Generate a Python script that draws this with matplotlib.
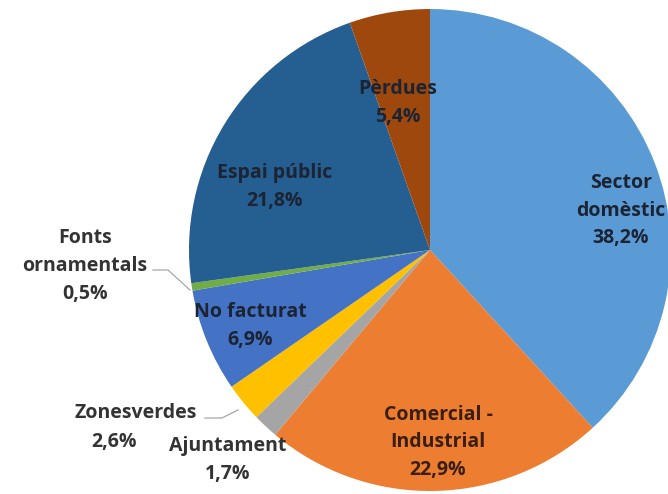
import matplotlib
matplotlib.use("Agg")
import matplotlib.pyplot as plt
import numpy as np

# Water consumption breakdown (%)
categories = ["Sector\ndomèstic", "Comercial -\nIndustrial", "Ajuntament", "Zonesverdes",
              "No facturat", "Fonts\nornamentals", "Espai públic", "Pèrdues"]
values = [38.2, 22.9, 1.7, 2.6, 6.9, 0.5, 21.8, 5.4]
colors = ["#5B9BD5", "#ED7D31", "#A5A5A5", "#FFC000",
          "#4472C4", "#70AD47", "#255E91", "#9E480E"]

W, H = 668, 494
fig = plt.figure(figsize=(W / 100, H / 100), dpi=100)
ax = fig.add_axes([0, 0, 1, 1])

cx, cy, r = 430, H - 250, 241
ax.pie(values, colors=colors, startangle=90, counterclock=False,
       center=(cx, cy), radius=r, wedgeprops=dict(linewidth=0))
ax.set_xlim(0, W)
ax.set_ylim(0, H)
ax.set_aspect("equal")
ax.axis("off")

def fmt(v):
    return f"{v:.1f}".replace(".", ",") + "%"

# label anchor positions in pixel coordinates (from top-left)
label_pos = {
    "Sector\ndomèstic": (621, 211),
    "Comercial -\nIndustrial": (438, 442),
    "Ajuntament": (228, 460),
    "Zonesverdes": None,
    "No facturat": (250, 326),
    "Fonts\nornamentals": (85, 266),
    "Espai públic": (275, 187),
    "Pèrdues": (398, 103),
}

font = dict(family=["Open Sans", "DejaVu Sans"], fontweight="bold", fontsize=14,
            ha="center", va="center", linespacing=1.5)
inside_color = "#1c2433"
outside_color = "#333333"

for cat, val in zip(categories, values):
    pos = label_pos[cat]
    if pos is None:
        continue
    color = inside_color
    if cat in ("Ajuntament", "Fonts\nornamentals"):
        color = outside_color
    if cat.startswith("Comercial"):
        color = "#3a1e10"
    ax.text(pos[0], H - pos[1], f"{cat}\n{fmt(val)}", color=color, **font)

# Zonesverdes label with the value on a shifted second line
zv = values[categories.index("Zonesverdes")]
ax.text(136, H - 413, "Zonesverdes", color=outside_color, **font)
ax.text(114, H - 442, fmt(zv), color=outside_color, **font)

# leader lines
ax.plot([153, 168, 190], [H - 270, H - 270, H - 290], color="#a6a6a6", lw=0.9)
ax.plot([205, 222, 238], [H - 418, H - 418, H - 410], color="#a6a6a6", lw=0.9)

fig.savefig("out.png", dpi=100, facecolor="white")
